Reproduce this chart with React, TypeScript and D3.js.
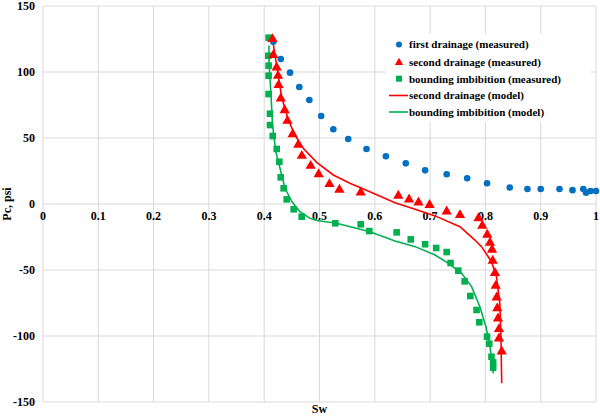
import React from "react";
import * as d3 from "d3";

const xTicks = [0, 0.1, 0.2, 0.3, 0.4, 0.5, 0.6, 0.7, 0.8, 0.9, 1];
const yTicks = [-150, -100, -50, 0, 50, 100, 150];

const firstDrainageSw = [0.4165, 0.43, 0.4467, 0.4635, 0.4816, 0.503, 0.525, 0.552, 0.585, 0.62, 0.656, 0.691, 0.73, 0.767, 0.803, 0.844, 0.876, 0.9, 0.934, 0.9575, 0.977, 0.982, 0.99, 1.0];
const firstDrainagePc = [123, 109.8, 99.5, 88.6, 78.8, 66.7, 56.6, 49.2, 41.7, 36.2, 30.8, 25.5, 22.5, 19.5, 15.7, 12.5, 11.4, 11.4, 11.4, 10.5, 11.4, 8.6, 9.8, 9.8];

const secondDrainageSw = [0.415, 0.4165, 0.4225, 0.425, 0.426, 0.43, 0.437, 0.442, 0.4515, 0.4617, 0.468, 0.484, 0.4985, 0.518, 0.536, 0.5745, 0.6425, 0.662, 0.679, 0.699, 0.73, 0.754, 0.7875, 0.7944, 0.8034, 0.8083, 0.812, 0.8132, 0.8174, 0.8186, 0.8204, 0.8215, 0.8228, 0.8246, 0.8246, 0.8295];
const secondDrainagePc = [125.5, 113.4, 104, 97.7, 90.7, 80.5, 71.7, 63.6, 53.5, 45.5, 37.1, 29.5, 23.2, 15.7, 11.4, 9.3, 6.8, 4.0, 1.7, -0.2, -5, -7.8, -10.2, -15.9, -22.7, -28.8, -34.1, -42.4, -51.7, -61.4, -70.2, -78.3, -86.1, -94.2, -101.3, -111.1];

const imbibitionSw = [0.408, 0.4075, 0.408, 0.408, 0.408, 0.4105, 0.4105, 0.4154, 0.4226, 0.4273, 0.4298, 0.4352, 0.4407, 0.4533, 0.4678, 0.5286, 0.5745, 0.59, 0.6395, 0.665, 0.691, 0.711, 0.73, 0.737, 0.751, 0.7625, 0.7727, 0.784, 0.789, 0.803, 0.807, 0.811, 0.814, 0.814];
const imbibitionPc = [126, 112.3, 104.8, 97.2, 83.3, 68.4, 59.8, 51.5, 41.7, 32, 20.2, 11.9, 3.5, -4, -9.6, -14.6, -15.4, -20.5, -21.5, -26.8, -30.5, -33.3, -36.4, -44.7, -50.5, -58.6, -69.7, -80.3, -89.6, -100.5, -105.8, -115.7, -120, -124];

const drainModelSw = [0.415, 0.4225, 0.4316, 0.4436, 0.456, 0.471, 0.495, 0.525, 0.555, 0.591, 0.6365, 0.673, 0.709, 0.754, 0.781, 0.793, 0.811, 0.82, 0.826, 0.828, 0.8295];
const drainModelPc = [125, 105, 81, 63.6, 52, 42, 31.6, 22, 15.7, 9.3, 1, -4, -9, -17.2, -27.3, -32.3, -43.7, -55, -75, -98, -135.8];

const imbModelSw = [0.4085, 0.409, 0.412, 0.415, 0.421, 0.4286, 0.4376, 0.45, 0.4647, 0.483, 0.495, 0.531, 0.591, 0.6365, 0.673, 0.709, 0.733, 0.757, 0.775, 0.79, 0.801, 0.8083, 0.8143];
const imbModelPc = [120, 105, 85, 60, 39.6, 27, 11.9, 1.8, -5.8, -10.9, -12.5, -14.6, -21, -28, -32.3, -38.6, -45, -52.5, -62.6, -77.8, -93, -108, -128.3];

const legendLabels = [
  "first drainage (measured)",
  "second drainage (measured)",
  "bounding imbibition (measured)",
  "second drainage (model)",
  "bounding imbibition (model)",
];

const BLUE = "#0070C0";
const RED = "#FF0000";
const GREEN = "#00B050";
const FONT = "'Liberation Serif', 'Times New Roman', serif";

export default function App() {
  const W = 600, H = 417;
  const x = d3.scaleLinear().domain([0, 1]).range([43, 596]);
  const y = d3.scaleLinear().domain([-150, 150]).range([402, 6]);
  const line = d3.line<[number, number]>().x(d => x(d[0])).y(d => y(d[1]));
  const zip = (a: number[], b: number[]) => a.map((v, i) => [v, b[i]] as [number, number]);
  const tri = d3.symbol().type(d3.symbolTriangle).size(46)();

  const legendY = [44.5, 62, 78.7, 95.5, 112];

  return (
    <svg width={W} height={H} style={{ position: "absolute", left: 0, top: 0, background: "#fff" }} fontFamily={FONT}>
      {xTicks.map(t => (
        <line key={"gx" + t} x1={x(t)} x2={x(t)} y1={y(150)} y2={y(-150)} stroke="#d9d9d9" strokeWidth={1} />
      ))}
      {yTicks.map(t => (
        <line key={"gy" + t} x1={x(0)} x2={x(1)} y1={y(t)} y2={y(t)} stroke="#d9d9d9" strokeWidth={1} />
      ))}
      {yTicks.map(t => (
        <text key={"ty" + t} x={35} y={y(t)} dy="0.35em" textAnchor="end" fontSize={12} fontWeight="bold" fill="#000">{t}</text>
      ))}
      {xTicks.map(t => (
        <text key={"tx" + t} x={x(t)} y={y(0) + 16} textAnchor="middle" fontSize={12} fontWeight="bold" fill="#000">{String(t)}</text>
      ))}
      <text x={x(0.5)} y={413} textAnchor="middle" fontSize={12} fontWeight="bold">Sw</text>
      <text transform={`translate(11,${y(0)}) rotate(-90)`} textAnchor="middle" fontSize={12} fontWeight="bold">Pc, psi</text>

      <path d={line(zip(drainModelSw, drainModelPc)) || ""} fill="none" stroke={RED} strokeWidth={1.6} />
      <path d={line(zip(imbModelSw, imbModelPc)) || ""} fill="none" stroke={GREEN} strokeWidth={1.6} />

      {firstDrainageSw.map((s, i) => (
        <circle key={"b" + i} cx={x(s)} cy={y(firstDrainagePc[i])} r={3.3} fill={BLUE} />
      ))}
      {imbibitionSw.map((s, i) => (
        <rect key={"g" + i} x={x(s) - 3.3} y={y(imbibitionPc[i]) - 3.3} width={6.6} height={6.6} fill={GREEN} />
      ))}
      {secondDrainageSw.map((s, i) => (
        <path key={"r" + i} d={tri || ""} transform={`translate(${x(s)},${y(secondDrainagePc[i]) + 0.8})`} fill={RED} />
      ))}

      <rect x={386} y={34} width={205} height={88} fill="#fff" />
      <circle cx={399} cy={legendY[0]} r={3} fill={BLUE} />
      <path d={d3.symbol().type(d3.symbolTriangle).size(30)() || ""} transform={`translate(399,${legendY[1] + 0.5})`} fill={RED} />
      <rect x={396} y={legendY[2] - 3} width={6} height={6} fill={GREEN} />
      <line x1={389} x2={408} y1={legendY[3]} y2={legendY[3]} stroke={RED} strokeWidth={1.6} />
      <line x1={389} x2={408} y1={legendY[4]} y2={legendY[4]} stroke={GREEN} strokeWidth={1.6} />
      {legendLabels.map((l, i) => (
        <text key={"l" + i} x={409} y={legendY[i]} dy="0.35em" fontSize={11} fontWeight="bold" fill="#000">{l}</text>
      ))}
    </svg>
  );
}
